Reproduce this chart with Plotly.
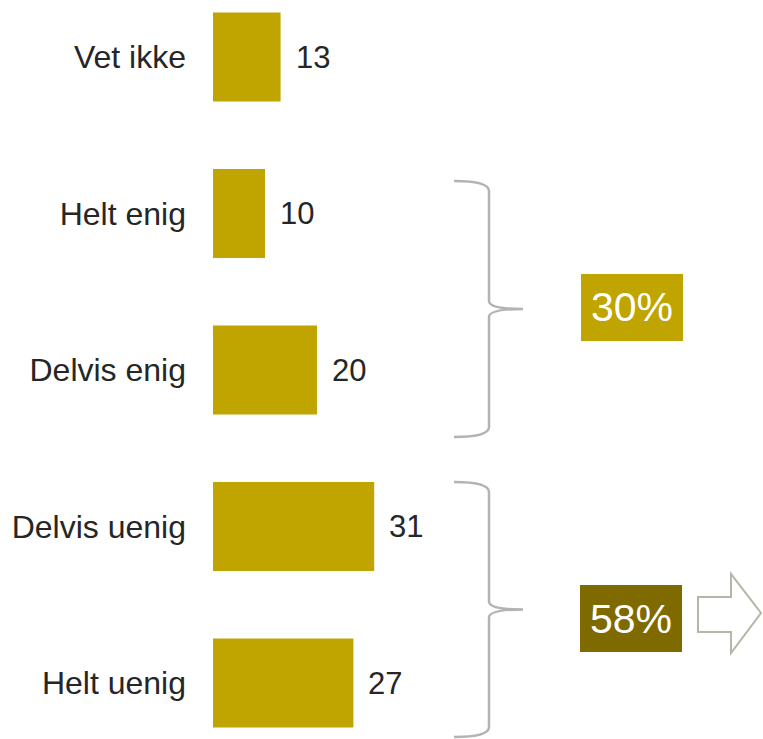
import plotly.graph_objects as go

categories = ["Vet ikke", "Helt enig", "Delvis enig", "Delvis uenig", "Helt uenig"]
values = [13, 10, 20, 31, 27]
group_labels = ["30%", "58%"]

W, H = 763, 739
L = 213
BAR = "#C0A400"
DARK = "#7F6A00"
TXT = "#262626"
FONT = "Liberation Sans, Arial, sans-serif"

def px(x):
    return (x - L) / (W - L)

def py(y):
    return 1 - y / H

fig = go.Figure()
fig.add_trace(go.Bar(
    x=values, y=categories, orientation="h",
    marker=dict(color=BAR, line=dict(width=0)),
    width=0.57, hoverinfo="skip",
))

for c, v in zip(categories, values):
    fig.add_annotation(x=v, y=c, text=str(v), showarrow=False, xanchor="left",
                       xshift=13, font=dict(family=FONT, size=31, color=TXT))

def brace(top, bot):
    mid = (top + bot) / 2
    x0, xv, xt = 454, 489, 523
    pts = [
        ("M", [(x0, top)]),
        ("Q", [(xv, top), (xv, top + 10)]),
        ("L", [(xv, mid - 8)]),
        ("Q", [(xv, mid), (xt, mid)]),
        ("Q", [(xv, mid), (xv, mid + 8)]),
        ("L", [(xv, bot - 10)]),
        ("Q", [(xv, bot), (x0, bot)]),
    ]
    s = ""
    for cmd, ps in pts:
        s += cmd + " " + " ".join(f"{px(a):.5f},{py(b):.5f}" for a, b in ps) + " "
    return s.strip()

for (top, bot) in [(181, 437), (482, 737)]:
    fig.add_shape(type="path", path=brace(top, bot), xref="paper", yref="paper",
                  line=dict(color="#B3B3B3", width=2.5))

boxes = [((581, 274, 683, 341), BAR), ((580, 585, 682, 652), DARK)]
for (lbl, ((x0, y0, x1, y1), col)) in zip(group_labels, boxes):
    fig.add_shape(type="rect", xref="paper", yref="paper",
                  x0=px(x0), x1=px(x1), y0=py(y1), y1=py(y0),
                  fillcolor=col, line=dict(width=0))
    fig.add_annotation(xref="paper", yref="paper", x=px((x0 + x1) / 2), y=py((y0 + y1) / 2),
                       text=lbl, showarrow=False, xanchor="center", yanchor="middle",
                       font=dict(family=FONT, size=41, color="white"))

arrow = [(698, 597), (731, 597), (731, 574), (761, 613), (731, 653), (731, 632), (698, 632)]
ap = "M " + " L ".join(f"{px(a):.5f},{py(b):.5f}" for a, b in arrow) + " Z"
fig.add_shape(type="path", path=ap, xref="paper", yref="paper",
              line=dict(color="#B4B6A6", width=2), fillcolor="white")

fig.update_layout(
    width=W, height=H,
    margin=dict(l=L, r=0, t=0, b=0),
    plot_bgcolor="white", paper_bgcolor="white",
    showlegend=False,
    xaxis=dict(range=[0, (W - L) / 5.2], visible=False, fixedrange=True),
    yaxis=dict(
        categoryorder="array", categoryarray=categories[::-1],
        range=[(683 - H) / 156.5, 683 / 156.5],
        showgrid=False, zeroline=False, showline=False, ticks="",
        ticklabelstandoff=26, automargin=False,
        tickfont=dict(family=FONT, size=32, color=TXT),
    ),
)

fig.write_html(
    "out.html",
    config={"displayModeBar": False},
    post_script="document.body.style.margin='0';document.body.style.overflow='hidden';",
)
